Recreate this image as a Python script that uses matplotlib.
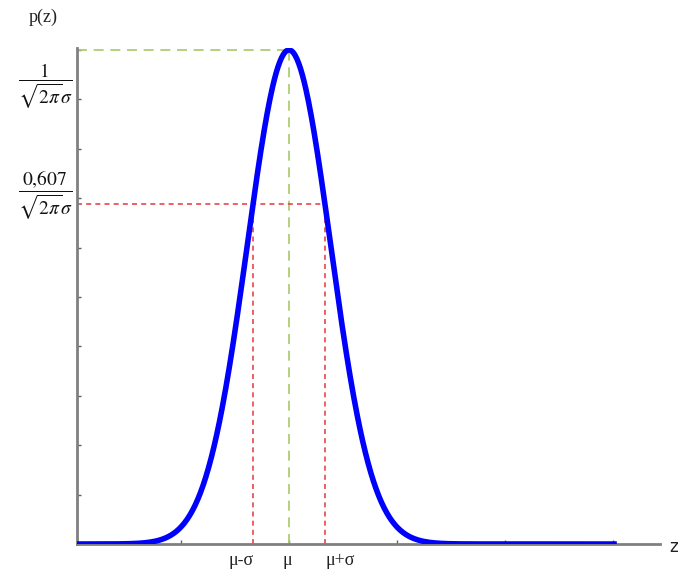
import numpy as np
import matplotlib
matplotlib.use("Agg")
import matplotlib.pyplot as plt
from matplotlib.transforms import blended_transform_factory

plt.rcParams['mathtext.fontset'] = 'stix'

# Data (units of sigma, mu = 0)
mu = 0.0
sigma = 1.0
curve_sigma = 1.156          # drawn width of the curve
peak = 1.0                   # 1/(sqrt(2pi) sigma)
level_drawn = 0.688          # drawn height of the "0,607" guide line
z_range = (-5.89, 9.11)
x_lim = (-5.89, 10.31)
y_lim = (0.0, 1.004)
x_ticks = [-3, 0, 3, 6, 9]
y_ticks = [0.1, 0.2, 0.3, 0.4, 0.5, 0.6, 0.7, 0.8, 0.9, 1.0]
x_labels = ['μ-σ', 'μ', 'μ+σ']
x_label_pos = [-1.33, -0.05, 1.42]
y_labels = [r'$\dfrac{1}{\sqrt{2\pi}\sigma}$', r'$\dfrac{0{,}607}{\sqrt{2\pi}\sigma}$']
y_label_pos = [0.926, 0.706]

W, H = 689, 573
fig = plt.figure(figsize=(W / 100, H / 100), dpi=100)
ax = fig.add_axes([77 / W, 1 - 544 / H, (660 - 77) / W, (544 - 48) / H])
ax.set_xlim(*x_lim)
ax.set_ylim(*y_lim)
for s in ['top', 'right']:
    ax.spines[s].set_visible(False)
for s in ['left', 'bottom']:
    ax.spines[s].set_color('#808080')
    ax.spines[s].set_linewidth(2)
ax.set_xticks(x_ticks)
ax.set_yticks(y_ticks)
ax.tick_params(direction='in', length=3, width=1, color='#606060',
               labelbottom=False, labelleft=False)

z = np.linspace(z_range[0], z_range[1], 600)
p = peak * np.exp(-0.5 * ((z - mu) / curve_sigma) ** 2)

green = '#a8c86a'
red = '#e8454a'
ax.plot([x_lim[0], mu], [peak, peak], color=green, lw=1.2, dashes=(6, 4), zorder=2)
ax.plot([mu, mu], [0, peak], color=green, lw=1.2, dashes=(6, 4), zorder=2)
ax.plot([x_lim[0], mu + sigma], [level_drawn, level_drawn], color=red, lw=1.2, dashes=(3, 2.5), zorder=2)
ax.plot([mu - sigma, mu - sigma], [0, level_drawn], color=red, lw=1.2, dashes=(3, 2.5), zorder=2)
ax.plot([mu + sigma, mu + sigma], [0, level_drawn], color=red, lw=1.2, dashes=(3, 2.5), zorder=2)

ax.plot(z, p, color='#0000ff', lw=4.0, solid_capstyle='butt', zorder=3)

for lab, xp in zip(x_labels, x_label_pos):
    ax.text(xp, -0.016, lab, ha='center', va='top', fontsize=13,
            family='Liberation Serif', color='#222222')

tr = blended_transform_factory(fig.transFigure, ax.transData)
for lab, yp in zip(y_labels, y_label_pos):
    fig.text(45 / W, yp, lab, ha='center', va='center', fontsize=14,
             transform=tr, color='#111111')

fig.text(43 / W, 1 - 17 / H, 'p(z)', ha='center', va='center', fontsize=13,
         family='Liberation Serif', color='#222222')
fig.text(674 / W, 1 - 547 / H, 'z', ha='center', va='center', fontsize=12,
         family='DejaVu Sans', color='#222222')

fig.savefig('out.png', dpi=100)
